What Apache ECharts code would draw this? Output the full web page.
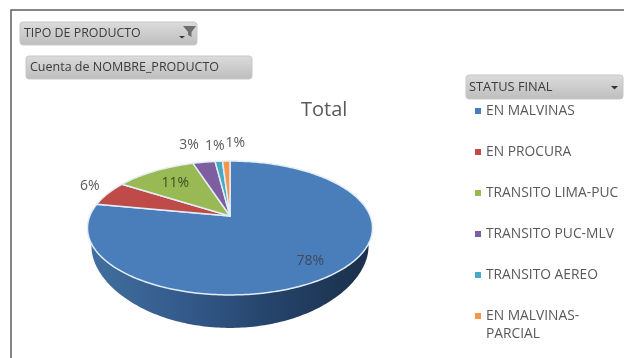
<!DOCTYPE html>
<html>
<head>
<meta charset="utf-8">
<style>html,body{margin:0;padding:0;background:#fff}#chart{width:624px;height:358px}</style>
<script src="https://cdn.jsdelivr.net/npm/echarts@6/dist/echarts.min.js"></script>
</head>
<body>
<div id="chart"></div>
<script>
// Share of products per final status
const categories = ['EN MALVINAS', 'EN PROCURA', 'TRANSITO LIMA-PUC', 'TRANSITO PUC-MLV', 'TRANSITO AEREO', 'EN MALVINAS-'];
const shares = [78, 6, 11, 3, 1, 1];
const sliceColors = ['#4a7ebb', '#be4b48', '#98b954', '#7d5fa0', '#46aac5', '#f79646'];

// Where each percentage sits: disc radius fraction plus a small pixel nudge
const labelRadius = [0.8, 1, 0.7, 1, 1, 1];
const labelNudge = [[0, 0], [-18, -8], [0, 0], [-15, -17], [-4, -15], [9, -18]];
const labelColors = ['#3d4a5c', '#595959', '#3f4d22', '#595959', '#595959', '#595959'];

// Tilted disc: a circle seen in perspective, apex at (cx, cy)
const cx = 230, cy = 216, scaleX = 140.2, scaleY = 64.8, tilt = 0.179;
const wallSide = 18, wallFront = 15, wallInset = 0.972;
const total = shares.reduce((a, b) => a + b, 0);

function project(deg, rho) {
  const t = deg * Math.PI / 180;
  const u = rho * Math.sin(t), v = rho * Math.cos(t), w = 1 + tilt * v;
  return [cx + scaleX * u / w, cy - scaleY * v / w];
}
function arc(from, to) {
  const pts = [], n = Math.max(2, Math.ceil(Math.abs(to - from)));
  for (let i = 0; i <= n; i++) pts.push(project(from + (to - from) * i / n, 1));
  return pts;
}
function wallArc(from, to) {
  const pts = [], n = Math.max(2, Math.ceil(Math.abs(to - from)));
  for (let i = 0; i <= n; i++) {
    const deg = from + (to - from) * i / n;
    const p = project(deg, 1);
    const c = Math.cos(deg * Math.PI / 180);
    pts.push([cx + (p[0] - cx) * wallInset, p[1] + wallSide + wallFront * c * c]);
  }
  return pts;
}
function sliceItem(index, api) {
  const before = shares.slice(0, index).reduce((a, b) => a + b, 0);
  const start = before / total * 360;
  const end = start + api.value(0) / total * 360;
  const children = [];
  // Side wall for the part of the rim facing the viewer
  const a = Math.max(start, 80), b = Math.min(end, 280);
  if (b > a) {
    children.push({
      type: 'polygon',
      shape: { points: arc(a, b).concat(wallArc(a, b).reverse()) },
      style: {
        fill: new echarts.graphic.LinearGradient(0, 0, 1, 0, [
          { offset: 0, color: '#41709f' },
          { offset: 0.35, color: '#33598a' },
          { offset: 0.65, color: '#254369' },
          { offset: 1, color: '#1a2f4a' }
        ])
      }
    });
  }
  // Top face of the slice
  children.push({
    type: 'polygon',
    shape: { points: [[cx, cy]].concat(arc(start, end)) },
    style: { fill: sliceColors[index], stroke: '#e3edf6', lineWidth: 1.5, lineJoin: 'round' }
  });
  // Percentage label
  const anchor = project((start + end) / 2, labelRadius[index]);
  children.push({
    type: 'text',
    style: {
      x: anchor[0] + labelNudge[index][0],
      y: anchor[1] + labelNudge[index][1],
      text: api.value(0) + '%',
      fill: labelColors[index],
      font: '14px "Open Sans", sans-serif',
      align: 'center',
      verticalAlign: 'middle'
    }
  });
  return { type: 'group', children };
}

const chart = echarts.init(document.getElementById('chart'), null, { renderer: 'canvas' });

function button(x, y, w, h, label, font, textX) {
  return [
    {
      type: 'rect',
      shape: { x, y, width: w, height: h, r: 3 },
      style: {
        fill: new echarts.graphic.LinearGradient(0, 0, 0, 1, [
          { offset: 0, color: '#dcdcdc' },
          { offset: 1, color: '#bdbdbd' }
        ]),
        stroke: '#c8c8c8'
      }
    },
    {
      type: 'text',
      style: { x: textX, y: y + h / 2, text: label, fill: '#3c3c3c', font, verticalAlign: 'middle' }
    }
  ];
}

chart.setOption({
  animation: false,
  backgroundColor: '#ffffff',
  title: {
    text: 'Total',
    left: 301,
    top: 100,
    padding: 0,
    textStyle: { fontFamily: 'Open Sans', fontSize: 20, fontWeight: 'normal', color: '#595959' }
  },
  legend: {
    orient: 'vertical',
    left: 470,
    top: 97,
    itemWidth: 6,
    itemHeight: 6,
    itemGap: 23,
    icon: 'rect',
    data: categories,
    textStyle: { fontFamily: 'Open Sans', fontSize: 13.8, color: '#595959', lineHeight: 18, padding: [0, 0, 0, 0] }
  },
  series: categories.map((name, i) => ({
    type: 'custom',
    name,
    coordinateSystem: 'none',
    silent: true,
    itemStyle: { color: sliceColors[i] },
    data: [[shares[i]]],
    renderItem: (params, api) => sliceItem(i, api)
  })),
  graphic: [
    // Worksheet frame along the top and left edges
    { type: 'polyline', shape: { points: [[11, 358], [11, 10], [624, 10]] }, style: { stroke: '#5f5f5f', lineWidth: 1.5, fill: 'none' } },
    // Second line of the last legend entry
    { type: 'text', style: { x: 486, y: 334, text: 'PARCIAL', fill: '#595959', font: '13.8px "Open Sans", sans-serif', verticalAlign: 'middle' } }
  ].concat(
    button(20, 22, 177, 23, 'TIPO DE PRODUCTO', '12.4px "Open Sans", sans-serif', 24),
    button(26, 56, 226, 23, 'Cuenta de NOMBRE_PRODUCTO', '12.5px "Open Sans", sans-serif', 30),
    button(466, 75, 157, 24, 'STATUS FINAL', '12.8px "Open Sans", sans-serif', 469),
    [
      // Filter funnel and drop arrows
      { type: 'polygon', shape: { points: [[183, 26], [196, 26], [191.5, 32], [191.5, 37], [188, 35], [188, 32]] }, style: { fill: '#6e6e6e' } },
      { type: 'polygon', shape: { points: [[179, 36], [185, 36], [182, 38.5]] }, style: { fill: '#333333' } },
      { type: 'polygon', shape: { points: [[611, 86], [618, 86], [614.5, 89.5]] }, style: { fill: '#333333' } }
    ]
  )
});
</script>
</body>
</html>
